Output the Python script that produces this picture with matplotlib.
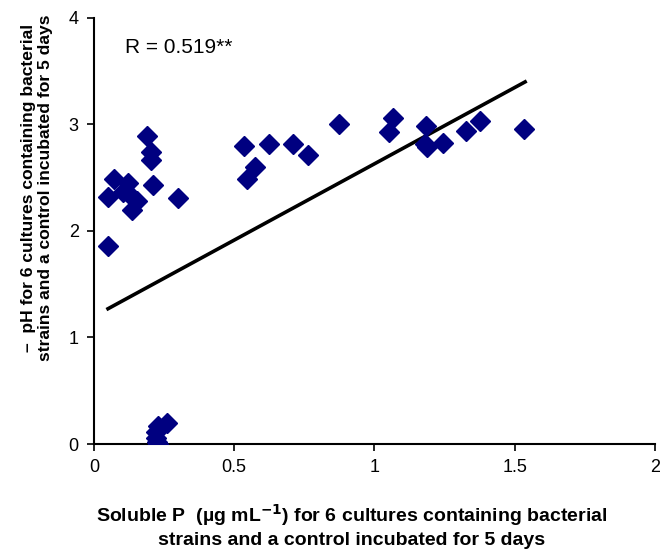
import matplotlib
matplotlib.use("Agg")
import matplotlib.pyplot as plt

plt.rcParams['font.family'] = ['Liberation Sans', 'DejaVu Sans']

soluble_p = [0.05, 0.051, 0.071, 0.105, 0.122, 0.134, 0.134, 0.152, 0.19, 0.203, 0.203,
             0.212, 0.30, 0.536, 0.544, 0.574, 0.623, 0.71, 0.763, 0.873,
             1.053, 1.065, 1.18, 1.184, 1.186, 1.243, 1.325, 1.376, 1.534,
             0.26, 0.23, 0.22, 0.22, 0.225, 0.23]
neg_ph = [1.86, 2.32, 2.49, 2.37, 2.45, 2.32, 2.20, 2.28, 2.89, 2.74, 2.67,
          2.43, 2.31, 2.80, 2.49, 2.60, 2.82, 2.82, 2.71, 3.00,
          2.93, 3.06, 2.82, 2.99, 2.79, 2.83, 2.94, 3.03, 2.96,
          0.20, 0.17, 0.11, 0.06, 0.02, 0.00]

fit_x = [0.05, 1.537]
fit_y = [1.27, 3.40]

x_ticks = [0, 0.5, 1, 1.5, 2]
x_tick_labels = ['0', '0.5', '1', '1.5', '2']
y_ticks = [0, 1, 2, 3, 4]

fig = plt.figure(figsize=(6.6, 5.53), dpi=100)
ax = fig.add_axes([0.1424, 0.1971, 0.85, 0.7704])

ax.plot(soluble_p, neg_ph, linestyle='none', marker='D', markersize=10,
        color='#000080', markeredgecolor='#000080', zorder=3)
ax.plot(fit_x, fit_y, color='black', linewidth=2.6, zorder=2)

ax.set_xlim(0, 2)
ax.set_ylim(0, 4)
ax.set_xticks(x_ticks)
ax.set_xticklabels(x_tick_labels)
ax.set_yticks(y_ticks)
ax.tick_params(direction='out', length=5, width=1.2, labelsize=13, pad=6)
for s in ['top', 'right']:
    ax.spines[s].set_visible(False)
for s in ['left', 'bottom']:
    ax.spines[s].set_linewidth(1.5)

ax.text(0.11, 3.72, 'R = 0.519**', fontsize=15, va='center')

fig.text(0.533, 0.008,
         'Soluble P  (µg mL$^{\\mathbf{-1}}$) for 6 cultures containing bacterial\nstrains and a control incubated for 5 days',
         ha='center', va='bottom', fontsize=14, fontweight='bold', linespacing=1.3)
fig.text(0.056, 0.66,
         '–  pH for 6 cultures containing bacterial\nstrains and a control incubated for 5 days',
         ha='center', va='center', rotation=90, fontsize=12.6, fontweight='bold', linespacing=1.1)

fig.savefig('out.png', dpi=100)
